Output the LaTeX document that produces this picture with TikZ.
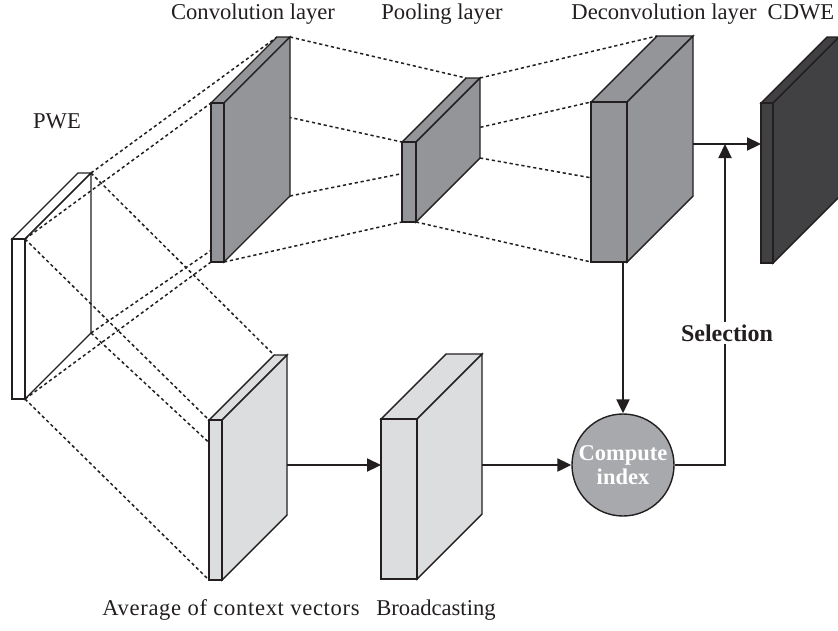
\documentclass[tikz,border=0pt]{standalone}
\usepackage{fontspec}
\setmainfont{Liberation Serif}
\usetikzlibrary{arrows.meta}

\definecolor{edgecol}{HTML}{231F20}
\definecolor{midgray}{HTML}{939598}
\definecolor{lightgray}{HTML}{DCDDDE}
\definecolor{darkslab}{HTML}{414042}
\definecolor{circgray}{HTML}{A7A9AC}

% corner coordinates of a slab: name, x, top y, width, height, depth
\newcommand\slabcorners[6]{%
  \coordinate (#1-ftl) at (#2,#3);
  \coordinate (#1-ftr) at ({#2+#4},#3);
  \coordinate (#1-fbl) at (#2,{#3+#5});
  \coordinate (#1-fbr) at ({#2+#4},{#3+#5});
  \coordinate (#1-btl) at ({#2+#6},{#3-#6});
  \coordinate (#1-btr) at ({#2+#4+#6},{#3-#6});
  \coordinate (#1-bbr) at ({#2+#4+#6},{#3+#5-#6});
}
% top, side and front faces of a slab
\newcommand\drawslab[2]{%
  \filldraw[slabedge, fill=#2] (#1-ftl) -- (#1-btl) -- (#1-btr) -- (#1-ftr) -- cycle;
  \filldraw[slabedge, fill=#2] (#1-ftr) -- (#1-btr) -- (#1-bbr) -- (#1-fbr) -- cycle;
  \filldraw[slabedge, fill=#2] (#1-ftl) rectangle (#1-fbr);
}

\tikzset{
  slabedge/.style={draw=edgecol, line width=1.4pt, line join=miter},
  link/.style={draw=edgecol, line width=1.5pt, dash pattern=on 3.2pt off 2.8pt},
  flow/.style={draw=edgecol, line width=2.2pt, -{Triangle[length=14pt,width=13pt]}},
  label/.style={font=\fontsize{22.6}{25}\selectfont, text=edgecol, anchor=base, inner sep=0pt},
}

\begin{document}
\begin{tikzpicture}[x=1pt,y=-1pt]
\useasboundingbox (0,0) rectangle (838,630);

\slabcorners{pwe}{12}{239}{13}{160}{66}
\slabcorners{conv}{211}{103}{13}{159}{66}
\slabcorners{pool}{402}{142}{14}{80}{64}
\slabcorners{deconv}{591}{102}{36}{160}{66}
\slabcorners{cdwe}{761}{103}{12}{160}{66}
\slabcorners{avg}{209}{420}{13}{160}{65}
\slabcorners{broad}{381}{419}{36}{160}{65}

% input slab, open so the projection lines show through
\draw[slabedge] (pwe-ftl) -- (pwe-btl) -- (pwe-btr) -- (pwe-ftr) -- cycle;
\draw[slabedge] (pwe-ftr) -- (pwe-btr) -- (pwe-bbr) -- (pwe-fbr) -- cycle;
\draw[slabedge] (pwe-ftl) rectangle (pwe-fbr);

% projection lines
\foreach \a/\b in {pwe-btr/conv-btl, pwe-ftr/conv-ftl, pwe-bbr/conv-bbr, pwe-fbr/conv-fbl,
                   pwe-btr/avg-btl, pwe-ftr/avg-ftl, pwe-bbr/avg-bbr, pwe-fbr/avg-fbl,
                   conv-btr/pool-btl, conv-ftr/pool-ftl, conv-bbr/pool-bbr, conv-fbr/pool-fbl,
                   pool-btr/deconv-btl, pool-ftr/deconv-ftl, pool-bbr/deconv-bbr, pool-fbr/deconv-fbl}
  \draw[link] (\a) -- (\b);

\drawslab{conv}{midgray}
\drawslab{pool}{midgray}
\drawslab{deconv}{midgray}
\drawslab{cdwe}{darkslab}
\drawslab{avg}{lightgray}
\drawslab{broad}{lightgray}

% index computation
\node[circle, minimum size=102pt, inner sep=0pt, fill=circgray, draw=edgecol, line width=1.4pt,
      text=white, align=center, font=\fontsize{22.5}{24}\bfseries\selectfont] (ci) at (623,465) {Compute\\index};

\coordinate (join) at (725,144);
\draw[flow] (ci.north |- deconv-fbl) -- (ci.north);
\draw[flow] (avg-btr |- ci) -- (broad-ftl |- ci);
\draw[flow] (broad-btr |- ci) -- (ci.west);
\draw[flow] (deconv-btr |- join) -- (cdwe-ftl |- join);
\draw[flow] (ci.east) -| (join);
\node[fill=white, inner sep=3pt, font=\fontsize{24}{26}\bfseries\selectfont, text=edgecol] (sel) at (727,333) {Selection};

% captions
\node[label] (t-pwe) at (57,128) {PWE};
\node[label] (t-conv) at (253,19) {Convolution layer};
\node[label] (t-pool) at (442,19) {Pooling layer};
\node[label] (t-deconv) at (664,19) {Deconvolution layer};
\node[label] (t-cdwe) at (801,19) {CDWE};
\node[label, font=\addfontfeatures{LetterSpace=3}\fontsize{22.6}{25}\selectfont] (t-avg) at (231,615) {Average of context vectors};
\node[label] (t-broad) at (436,615) {Broadcasting};
\end{tikzpicture}
\end{document}
